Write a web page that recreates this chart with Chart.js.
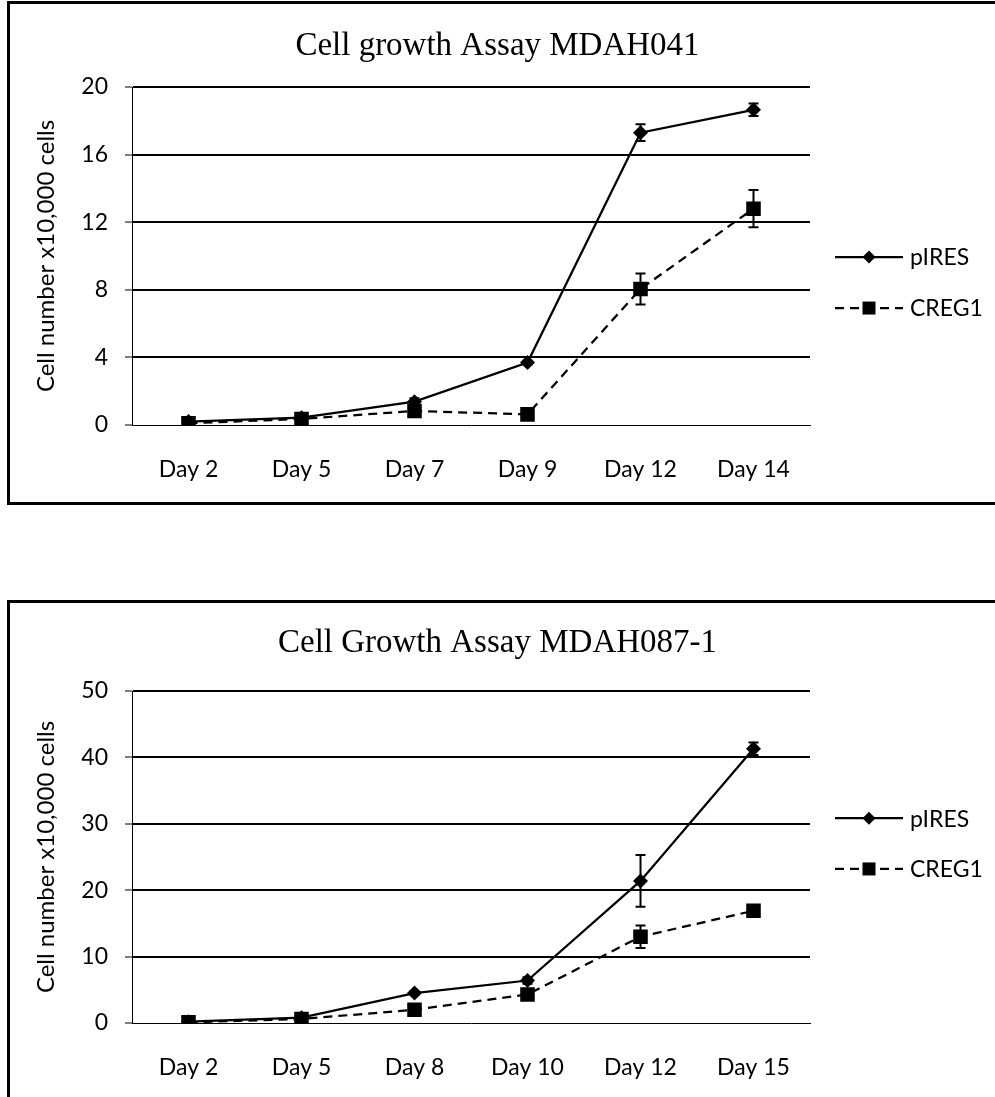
<!DOCTYPE html>
<html>
<head>
<meta charset="utf-8">
<script src="https://cdn.jsdelivr.net/npm/chart.js@4.4.0/dist/chart.umd.min.js"></script>
<style>
  html, body { margin: 0; padding: 0; background: #fff; width: 995px; height: 1097px; overflow: hidden; position: relative; }
  .frame { position: absolute; left: 7px; width: 1100px; border: 3px solid #000; box-sizing: border-box; }
  #frame1 { top: 1px; height: 504px; }
  #frame2 { top: 600px; height: 600px; }
  .wrap { position: absolute; left: 0; width: 995px; }
  #wrap1 { top: 0; height: 505px; }
  #wrap2 { top: 598px; height: 499px; }
</style>
</head>
<body>
<div class="frame" id="frame1"></div>
<div class="frame" id="frame2"></div>
<div class="wrap" id="wrap1"><canvas id="chart1" width="995" height="505"></canvas></div>
<div class="wrap" id="wrap2"><canvas id="chart2" width="995" height="499"></canvas></div>
<script>
// ---- MDAH041 ----
const days041 = ['Day 2', 'Day 5', 'Day 7', 'Day 9', 'Day 12', 'Day 14'];
const pires041 = [0.2, 0.43, 1.38, 3.7, 17.3, 18.65];
const pires041Err = [0.05, 0.05, 0.2, 0.1, 0.5, 0.37];
const creg041 = [0.1, 0.36, 0.83, 0.63, 8.05, 12.8];
const creg041Err = [0.05, 0.05, 0.3, 0.1, 0.92, 1.1];
const yMax041 = 20;
const yStep041 = 4;

// ---- MDAH087-1 ----
const days087 = ['Day 2', 'Day 5', 'Day 8', 'Day 10', 'Day 12', 'Day 15'];
const pires087 = [0.2, 0.8, 4.5, 6.4, 21.4, 41.3];
const pires087Err = [0.1, 0.2, 0.3, 0.5, 3.9, 0.95];
const creg087 = [0.1, 0.6, 2.0, 4.3, 13.0, 16.9];
const creg087Err = [0.05, 0.2, 0.4, 0.6, 1.7, 0.5];
const yMax087 = 50;
const yStep087 = 10;

const seriesNames = ['pIRES', 'CREG1'];
const yTitle = 'Cell number x10,000 cells';

const SANS = 'Lato, "Open Sans", sans-serif';
const SERIF = '"Liberation Serif", "Times New Roman", serif';

// Vertical error bars with caps, drawn from each dataset's `errors` array
const errorBars = {
  id: 'errorBars',
  afterDatasetsDraw(chart) {
    const { ctx } = chart;
    const yScale = chart.scales.y;
    chart.data.datasets.forEach((ds, i) => {
      if (!ds.errors) return;
      const meta = chart.getDatasetMeta(i);
      ctx.save();
      ctx.strokeStyle = '#000';
      ctx.lineWidth = 2;
      meta.data.forEach((pt, j) => {
        const e = ds.errors[j];
        if (!e) return;
        const v = ds.data[j];
        const yt = yScale.getPixelForValue(v + e);
        const yb = yScale.getPixelForValue(Math.max(0, v - e));
        const half = 5;
        ctx.beginPath();
        ctx.moveTo(pt.x, yt); ctx.lineTo(pt.x, yb);
        ctx.moveTo(pt.x - half, yt); ctx.lineTo(pt.x + half, yt);
        ctx.moveTo(pt.x - half, yb); ctx.lineTo(pt.x + half, yb);
        ctx.stroke();
      });
      ctx.restore();
    });
  }
};

// Legend entries drawn as a line segment with the series marker, right of the plot.
// The plugin also reserves a right-hand layout box so the title stays centred on the canvas.
function drawMarker(ctx, style, x, y, r) {
  ctx.beginPath();
  if (style === 'rectRot') {
    ctx.moveTo(x - r, y); ctx.lineTo(x, y - r); ctx.lineTo(x + r, y); ctx.lineTo(x, y + r);
  } else {
    ctx.rect(x - r, y - r, 2 * r, 2 * r);
  }
  ctx.closePath();
  ctx.fill();
}
const lineLegend = {
  id: 'lineLegend',
  start(chart, args, opts) {
    const box = {
      options: {},
      position: 'right', weight: 1000, fullSize: false,
      width: 0, height: 0, left: 0, top: 0, right: 0, bottom: 0,
      update(maxWidth, maxHeight) { this.width = opts.width; this.height = maxHeight; },
      isHorizontal() { return false; },
      draw() {}
    };
    Chart.layouts.addBox(chart, box);
  },
  afterDraw(chart, args, opts) {
    const { ctx, chartArea } = chart;
    const x0 = chartArea.right + opts.gap;
    chart.data.datasets.forEach((ds, i) => {
      const y = chartArea.top + chartArea.height * opts.rows[i];
      ctx.save();
      ctx.strokeStyle = ds.borderColor;
      ctx.lineWidth = ds.borderWidth;
      ctx.setLineDash(ds.borderDash || []);
      ctx.beginPath();
      ctx.moveTo(x0, y); ctx.lineTo(x0 + opts.lineLength, y);
      ctx.stroke();
      ctx.setLineDash([]);
      ctx.fillStyle = ds.pointBackgroundColor;
      drawMarker(ctx, ds.pointStyle, x0 + opts.lineLength / 2, y, opts.markerSize[i]);
      ctx.fillStyle = '#000';
      ctx.font = '23px ' + SANS;
      ctx.textBaseline = 'middle';
      ctx.textAlign = 'left';
      ctx.fillText(ds.label, x0 + opts.lineLength + opts.textGap, y + 1);
      ctx.restore();
    });
  }
};

function makeChart(id, title, labels, pires, piresErr, creg, cregErr, yMax, yStep, lay) {
  const titleSize = 33;
  const titleLH = titleSize * 1.2;
  return new Chart(document.getElementById(id), {
    type: 'line',
    data: {
      labels: labels,
      datasets: [
        {
          label: seriesNames[0], data: pires, errors: piresErr,
          borderColor: '#000', borderWidth: 2.25, tension: 0,
          pointStyle: 'rectRot', pointRadius: 7.5, pointBackgroundColor: '#000',
          pointBorderWidth: 0, fill: false
        },
        {
          label: seriesNames[1], data: creg, errors: cregErr,
          borderColor: '#000', borderWidth: 2.25, borderDash: [9, 6], tension: 0,
          pointStyle: 'rect', pointRadius: 10.3, pointBackgroundColor: '#000',
          pointBorderWidth: 0, fill: false
        }
      ]
    },
    options: {
      responsive: false,
      animation: false,
      events: [],
      layout: { padding: 0 },
      plugins: {
        legend: { display: false },
        tooltip: { enabled: false },
        title: {
          display: true, text: title, color: '#000',
          font: { family: SERIF, size: titleSize, weight: 'normal' },
          padding: { top: lay.titleMid - titleLH / 2, bottom: lay.top - lay.titleMid - titleLH / 2 }
        },
        lineLegend: Object.assign({ width: 995 - lay.right }, lay.legend)
      },
      scales: {
        x: {
          type: 'category',
          offset: true,
          grid: { display: false, drawTicks: false },
          border: { display: true, color: '#000', width: 1 },
          ticks: { color: '#000', font: { family: SANS, size: 23 }, padding: 31, maxRotation: 0, autoSkip: false },
          afterFit(scale) { scale.height = lay.height - lay.bottom; }
        },
        y: {
          min: 0, max: yMax,
          ticks: { stepSize: yStep, color: '#000', font: { family: SANS, size: 23 }, padding: 17 },
          grid: {
            color: '#000',
            lineWidth: (c) => (c.tick && c.tick.value === 0 ? 0 : 2),
            tickWidth: 1, tickLength: 7, tickColor: '#000', drawTicks: true
          },
          border: { display: true, color: '#000', width: 1 },
          title: {
            display: true, text: yTitle, color: '#000',
            font: { family: SANS, size: 24 }, padding: { top: 32, bottom: 0 }
          },
          afterFit(scale) { scale.width = lay.left; }
        }
      }
    },
    plugins: [errorBars, lineLegend]
  });
}

makeChart('chart1', 'Cell growth Assay MDAH041', days041,
  pires041, pires041Err, creg041, creg041Err, yMax041, yStep041,
  { left: 132, right: 810, top: 87, bottom: 425, height: 505, titleMid: 46,
    legend: { gap: 25, lineLength: 68, textGap: 7, rows: [0.503, 0.654], markerSize: [6.5, 6.5] } });

makeChart('chart2', 'Cell Growth Assay MDAH087-1', days087,
  pires087, pires087Err, creg087, creg087Err, yMax087, yStep087,
  { left: 132, right: 810, top: 93, bottom: 425, height: 499, titleMid: 45,
    legend: { gap: 25, lineLength: 68, textGap: 7, rows: [0.383, 0.536], markerSize: [6.5, 6.5] } });
</script>
</body>
</html>
